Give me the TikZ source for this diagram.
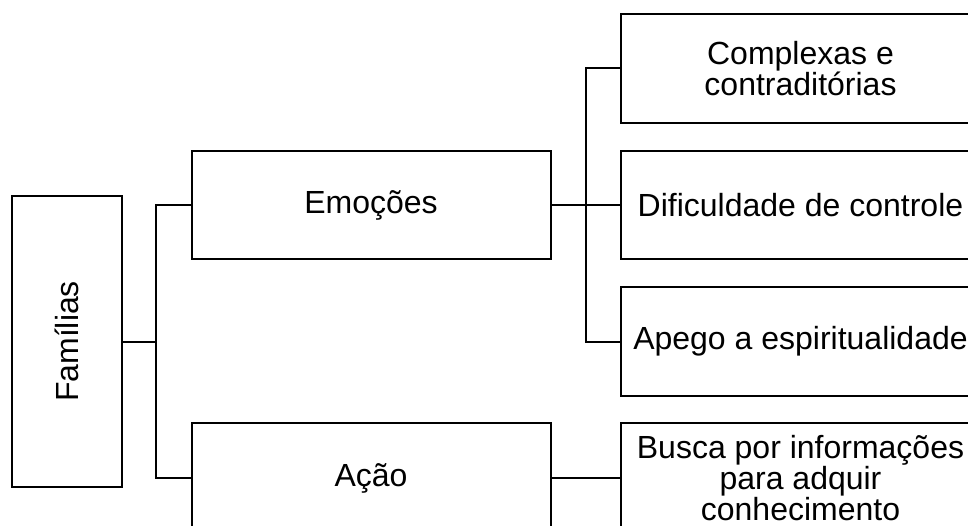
\documentclass[tikz,border=0pt]{standalone}
\usepackage{fontspec}
\setmainfont{Liberation Sans}
\usepackage{graphicx}
\begin{document}
\begin{tikzpicture}[x=1pt,y=-1pt,
  every node/.style={font=\fontsize{32}{31}\selectfont},
  boxnode/.style={draw, line width=2pt, minimum width=359pt, inner sep=0pt, align=center},
  conn/.style={line width=2pt, line join=miter}]
\useasboundingbox (0,0) rectangle (968,526);
\clip (0,0) rectangle (968,526);
\node[boxnode, minimum width=110pt, minimum height=291pt] (fam) at (66.5,341.5) {\rotatebox{90}{Famílias}};
\node[boxnode, minimum height=108pt] (emo) at (371,205) {Emoções};
\node[boxnode, minimum height=110pt] (acao) at (371,478) {Ação};
\node[boxnode, minimum height=109pt] (c1) at (800.5,68.5) {Complexas e\\contraditórias};
\node[boxnode, minimum height=108pt] (c2) at (800.5,205) {Dificuldade de controle};
\node[boxnode, minimum height=109pt] (c3) at (800.5,341.5) {Apego a espiritualidade};
\node[boxnode, minimum height=110pt] (c4) at (800.5,478) {Busca por informações\\para adquir\\conhecimento};
\coordinate (b1) at (156,205);
\coordinate (b2) at (156,478);
\coordinate (r1) at (586,68.5);
\coordinate (r3) at (586,341.5);
\draw[conn] (fam.east) -- (fam.east -| b1);
\draw[conn] (emo.west) -- (b1) -- (b2) -- (acao.west);
\draw[conn] (emo.east) -- (c2.west);
\draw[conn] (c1.west) -- (r1) -- (r3) -- (c3.west);
\draw[conn] (acao.east) -- (c4.west);
\end{tikzpicture}
\end{document}
